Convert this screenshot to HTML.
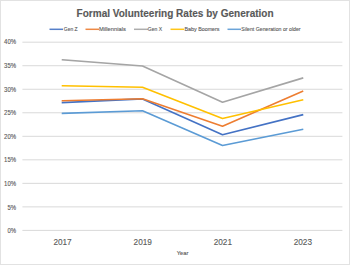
<!DOCTYPE html>
<html><head><meta charset="utf-8">
<style>
html,body{margin:0;padding:0;background:#fff;}
body{width:350px;height:265px;overflow:hidden;}
svg{display:block;}
text{font-family:"Liberation Sans", sans-serif;}
</style></head>
<body>
<svg width="350" height="265" viewBox="0 0 350 265">
<rect x="0.5" y="0.5" width="349" height="264" fill="#fff" stroke="#E2E2E2" stroke-width="1"/>
<!-- title -->
<text x="76.6" y="16.6" font-size="11" font-weight="bold" fill="#595959" stroke="#595959" stroke-width="0.15" textLength="197" lengthAdjust="spacingAndGlyphs">Formal Volunteering Rates by Generation</text>
<!-- legend -->
<g stroke-width="1.5" fill="none" opacity="0.9">
<line x1="49.5" y1="29.3" x2="63" y2="29.3" stroke="#4472C4"/>
<line x1="85.5" y1="29.3" x2="99" y2="29.3" stroke="#ED7D31"/>
<line x1="134" y1="29.3" x2="148" y2="29.3" stroke="#A5A5A5"/>
<line x1="170.5" y1="29.3" x2="184" y2="29.3" stroke="#FFC000"/>
<line x1="227.5" y1="29.3" x2="241" y2="29.3" stroke="#5B9BD5"/>
</g>
<g font-size="6" fill="#595959" stroke="#595959" stroke-width="0.12">
<text x="63.8" y="31" textLength="13.8" lengthAdjust="spacingAndGlyphs">Gen Z</text>
<text x="99" y="31" textLength="26.8" lengthAdjust="spacingAndGlyphs">Millennials</text>
<text x="147.8" y="31" textLength="14.2" lengthAdjust="spacingAndGlyphs">Gen X</text>
<text x="184.5" y="31" textLength="35" lengthAdjust="spacingAndGlyphs">Baby Boomers</text>
<text x="241.3" y="31" textLength="59.3" lengthAdjust="spacingAndGlyphs">Silent Generation or older</text>
</g>
<!-- gridlines -->
<g stroke="#D9D9D9" stroke-width="1">
<line x1="22.4" y1="42.20" x2="342.4" y2="42.20"/>
<line x1="22.4" y1="65.72" x2="342.4" y2="65.72"/>
<line x1="22.4" y1="89.25" x2="342.4" y2="89.25"/>
<line x1="22.4" y1="112.77" x2="342.4" y2="112.77"/>
<line x1="22.4" y1="136.30" x2="342.4" y2="136.30"/>
<line x1="22.4" y1="159.82" x2="342.4" y2="159.82"/>
<line x1="22.4" y1="183.35" x2="342.4" y2="183.35"/>
<line x1="22.4" y1="206.88" x2="342.4" y2="206.88"/>
<line x1="22.4" y1="230.40" x2="342.4" y2="230.40"/>
</g>
<g font-size="6.4" fill="#595959" stroke="#595959" stroke-width="0.12" text-anchor="end">
<text x="16.1" y="44.2" textLength="12.0" lengthAdjust="spacingAndGlyphs">40%</text>
<text x="16.1" y="67.8" textLength="12.0" lengthAdjust="spacingAndGlyphs">35%</text>
<text x="16.1" y="91.5" textLength="12.0" lengthAdjust="spacingAndGlyphs">30%</text>
<text x="16.1" y="115.1" textLength="12.0" lengthAdjust="spacingAndGlyphs">25%</text>
<text x="16.1" y="138.7" textLength="12.0" lengthAdjust="spacingAndGlyphs">20%</text>
<text x="16.1" y="162.3" textLength="12.0" lengthAdjust="spacingAndGlyphs">15%</text>
<text x="16.1" y="186.0" textLength="12.0" lengthAdjust="spacingAndGlyphs">10%</text>
<text x="16.1" y="209.6" textLength="8.6" lengthAdjust="spacingAndGlyphs">5%</text>
<text x="16.1" y="233.2" textLength="8.6" lengthAdjust="spacingAndGlyphs">0%</text>
</g>
<g font-size="8.7" fill="#595959" stroke="#595959" stroke-width="0.12" text-anchor="middle">
<text x="53.4" y="245" textLength="18.3" lengthAdjust="spacingAndGlyphs" text-anchor="start">2017</text>
<text x="133.6" y="245" textLength="18.3" lengthAdjust="spacingAndGlyphs" text-anchor="start">2019</text>
<text x="213.7" y="245" textLength="18.3" lengthAdjust="spacingAndGlyphs" text-anchor="start">2021</text>
<text x="293.7" y="245" textLength="18.3" lengthAdjust="spacingAndGlyphs" text-anchor="start">2023</text>
</g>
<text x="176.8" y="254.8" font-size="6" fill="#595959" stroke="#595959" stroke-width="0.12" textLength="11.6" lengthAdjust="spacingAndGlyphs">Year</text>
<!-- series -->
<g fill="none" stroke-width="1.6" stroke-linejoin="round" stroke-linecap="square">
<polyline stroke="#4472C4" points="62.5,102.6 142.5,98.9 222.5,134.8 302.5,114.8"/>
<polyline stroke="#ED7D31" points="62.5,100.8 142.5,98.7 222.5,126.3 302.5,91.4"/>
<polyline stroke="#A5A5A5" points="62.5,59.8 142.5,66.0 222.5,102.2 302.5,78.1"/>
<polyline stroke="#FFC000" points="62.5,85.8 142.5,87.3 222.5,118.5 302.5,100.0"/>
<polyline stroke="#5B9BD5" points="62.5,113.4 142.5,110.7 222.5,145.5 302.5,129.4"/>
</g>
</svg>
</body></html>
